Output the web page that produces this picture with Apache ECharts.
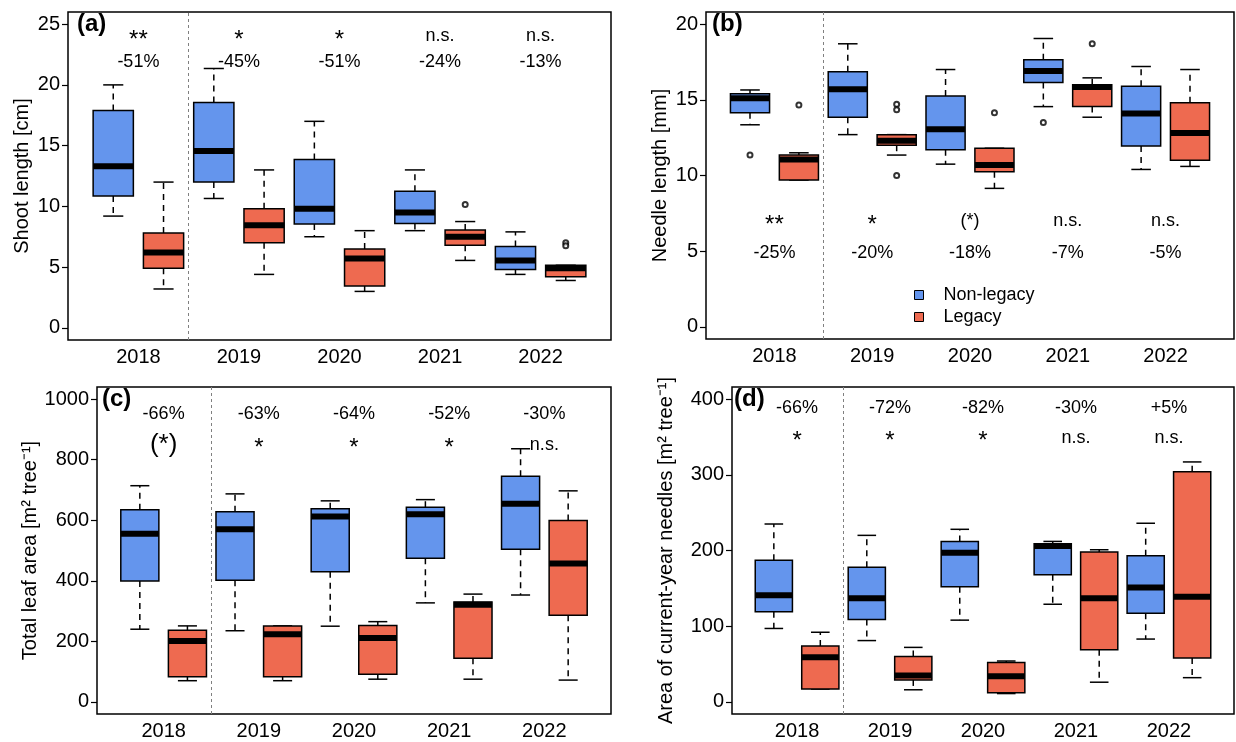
<!DOCTYPE html>
<html>
<head>
<meta charset="utf-8">
<script src="https://cdn.jsdelivr.net/npm/echarts@6.0.0/dist/echarts.min.js"></script>
<style>
  html, body { margin: 0; padding: 0; background: #fff; }
  #chart { width: 1236px; height: 742px; }
</style>
</head>
<body>
<div id="chart"></div>
<script>
const years = ["2018", "2019", "2020", "2021", "2022"];

// box stats per year: [lower whisker, Q1, median, Q3, upper whisker]
const shootNonLegacy = [[9.2, 10.85, 13.3, 17.9, 20.0], [10.65, 12.0, 14.55, 18.55, 21.35], [7.5, 8.55, 9.8, 13.85, 17.0], [8.0, 8.6, 9.5, 11.25, 13.0], [4.4, 4.8, 5.55, 6.7, 7.9]];
const shootLegacy = [[3.2, 4.9, 6.2, 7.8, 12.0], [4.4, 7.0, 8.45, 9.8, 13.0], [3.0, 3.45, 5.7, 6.5, 8.0], [5.55, 6.8, 7.5, 8.05, 8.75], [3.9, 4.2, 4.9, 5.15, 5.15]];
const shootOutNonLegacy = [];
const shootOutLegacy = [[3, 10.15], [4, 7.0], [4, 6.75]];
const shootSig = ["**", "*", "*", "n.s.", "n.s."];
const shootPct = ["-51%", "-45%", "-51%", "-24%", "-13%"];
const shootTicks = [0, 5, 10, 15, 20, 25];

const needleNonLegacy = [[13.35, 14.15, 15.1, 15.4, 15.65], [12.7, 13.85, 15.7, 16.85, 18.7], [10.75, 11.7, 13.05, 15.25, 17.0], [14.55, 16.15, 16.9, 17.65, 19.05], [10.4, 11.95, 14.1, 15.9, 17.2]];
const needleLegacy = [[9.7, 9.7, 11.05, 11.35, 11.5], [11.35, 12.0, 12.3, 12.7, 12.7], [9.15, 10.25, 10.7, 11.8, 11.8], [13.85, 14.55, 15.85, 16.0, 16.45], [10.6, 11.0, 12.8, 14.8, 17.0]];
const needleOutNonLegacy = [[0, 11.35], [3, 13.5]];
const needleOutLegacy = [[0, 14.65], [1, 14.7], [1, 14.35], [1, 10.0], [2, 14.15], [3, 18.7]];
const needleSig = ["**", "*", "(*)", "n.s.", "n.s."];
const needlePct = ["-25%", "-20%", "-18%", "-7%", "-5%"];
const needleTicks = [0, 5, 10, 15, 20];

const leafNonLegacy = [[240, 399, 555, 635, 714], [235, 402, 570, 628, 687], [250, 430, 612, 638, 664], [327, 474, 620, 643, 668], [353, 504, 654, 745, 836]];
const leafLegacy = [[70, 83, 201, 237, 251], [70, 83, 223, 251, 251], [75, 91, 211, 252, 265], [75, 144, 321, 330, 356], [72, 286, 457, 599, 697]];
const leafOutNonLegacy = [];
const leafOutLegacy = [];
const leafSig = ["(*)", "*", "*", "*", "n.s."];
const leafPct = ["-66%", "-63%", "-64%", "-52%", "-30%"];
const leafTicks = [0, 200, 400, 600, 800, 1000];

const newNonLegacy = [[97, 119, 141, 187, 235], [81, 109, 137, 178, 220], [108, 152, 197, 212, 228], [129, 168, 206, 209, 212], [83, 117, 151, 193, 236]];
const newLegacy = [[17, 17, 59, 74, 92], [16, 29, 35, 60, 72], [11, 12, 34, 52, 54], [26, 69, 137, 198, 201], [32, 58, 139, 304, 317]];
const newOutNonLegacy = [];
const newOutLegacy = [];
const newSig = ["*", "*", "*", "n.s.", "n.s."];
const newPct = ["-66%", "-72%", "-82%", "-30%", "+5%"];
const newTicks = [0, 100, 200, 300, 400];

const BLUE = "#6495ED";
const RED = "#EE6A50";
const FONT = "'Liberation Sans', Arial, sans-serif";

const panels = [
  { letter: "(a)", title: "Shoot length [cm]", non: shootNonLegacy, leg: shootLegacy, outNon: shootOutNonLegacy, outLeg: shootOutLegacy,
    sig: shootSig, pct: shootPct, ticks: shootTicks, sigY: 24, pctY: 21.9, bigParen: false,
    grid: { left: 68, top: 12, width: 543, height: 328 }, titleX: 22, letterX: 77 },
  { letter: "(b)", title: "Needle length [mm]", non: needleNonLegacy, leg: needleLegacy, outNon: needleOutNonLegacy, outLeg: needleOutLegacy,
    sig: needleSig, pct: needlePct, ticks: needleTicks, sigY: 7.0, pctY: 4.9, bigParen: false,
    grid: { left: 706, top: 12, width: 528, height: 327 }, titleX: 660, letterX: 712 },
  { letter: "(c)", title: "Total leaf area [m\u00B2 tree\u207B\u00B9]", non: leafNonLegacy, leg: leafLegacy, outNon: leafOutNonLegacy, outLeg: leafOutLegacy,
    sig: leafSig, pct: leafPct, ticks: leafTicks, sigY: 849, pctY: 950, bigParen: true,
    grid: { left: 97, top: 387, width: 514, height: 327 }, titleX: 30, letterX: 102 },
  { letter: "(d)", title: "Area of current-year needles [m\u00B2 tree\u207B\u00B9]", non: newNonLegacy, leg: newLegacy, outNon: newOutNonLegacy, outLeg: newOutLegacy,
    sig: newSig, pct: newPct, ticks: newTicks, sigY: 349, pctY: 388, bigParen: false,
    grid: { left: 732, top: 387, width: 502, height: 327 }, titleX: 666, letterX: 734 },
];

function boxRenderer(color) {
  return function (params, api) {
    const x = api.value(0);
    const lo = api.coord([x, api.value(1)]);
    const q1 = api.coord([x, api.value(2)]);
    const md = api.coord([x, api.value(3)]);
    const q3 = api.coord([x, api.value(4)]);
    const hi = api.coord([x, api.value(5)]);
    const half = api.size([0.8, 0])[0] / 2;
    const cap = half / 2;
    const cx = lo[0];
    const dash = { stroke: "#000", lineWidth: 1.5, lineDash: [6, 5] };
    const solid = { stroke: "#000", lineWidth: 1.5 };
    return {
      type: "group",
      children: [
        { type: "line", shape: { x1: cx, y1: q3[1], x2: cx, y2: hi[1] }, style: dash },
        { type: "line", shape: { x1: cx, y1: q1[1], x2: cx, y2: lo[1] }, style: dash },
        { type: "line", shape: { x1: cx - cap, y1: hi[1], x2: cx + cap, y2: hi[1] }, style: solid },
        { type: "line", shape: { x1: cx - cap, y1: lo[1], x2: cx + cap, y2: lo[1] }, style: solid },
        { type: "rect", shape: { x: cx - half, y: q3[1], width: half * 2, height: q1[1] - q3[1] },
          style: { fill: color, stroke: "#000", lineWidth: 1.5 } },
        { type: "line", shape: { x1: cx - half, y1: md[1], x2: cx + half, y2: md[1] },
          style: { stroke: "#000", lineWidth: 6 } },
      ],
    };
  };
}

const grids = [];
const xAxes = [];
const yAxes = [];
const series = [];
const graphics = [];

panels.forEach((p, i) => {
  grids.push(Object.assign({ show: true, borderColor: "#000", borderWidth: 1.5, backgroundColor: "transparent" }, p.grid));

  const yMin = p.ticks[0];
  const yMax = p.ticks[p.ticks.length - 1];
  const pad = (yMax - yMin) * 0.04;

  xAxes.push({
    type: "value", gridIndex: i, min: 0.1, max: 10.9,
    axisLine: { show: false }, axisTick: { show: false }, splitLine: { show: false },
    axisLabel: {
      customValues: years.map((y, k) => 1.5 + 2 * k),
      formatter: (v) => years[Math.round((v - 1.5) / 2)],
      color: "#000", fontSize: 20, fontFamily: FONT, margin: 7,
    },
  });

  yAxes.push({
    type: "value", gridIndex: i, min: yMin - pad, max: yMax + pad,
    axisLine: { show: false }, splitLine: { show: false },
    axisTick: { show: true, customValues: p.ticks, length: 6, lineStyle: { color: "#000", width: 1.2 } },
    axisLabel: { customValues: p.ticks, formatter: (v) => String(v), color: "#000", fontSize: 20, fontFamily: FONT, margin: 8 },
  });

  series.push({
    name: "Non-legacy", type: "custom", xAxisIndex: i, yAxisIndex: i,
    itemStyle: { color: BLUE },
    renderItem: boxRenderer(BLUE),
    encode: { x: 0, y: [1, 2, 3, 4, 5] },
    data: p.non.map((s, k) => [2 * k + 1].concat(s)),
    z: 3,
  });
  series.push({
    name: "Legacy", type: "custom", xAxisIndex: i, yAxisIndex: i,
    itemStyle: { color: RED },
    renderItem: boxRenderer(RED),
    encode: { x: 0, y: [1, 2, 3, 4, 5] },
    data: p.leg.map((s, k) => [2 * k + 2].concat(s)),
    z: 3,
  });

  const outliers = p.outNon.map((o) => [2 * o[0] + 1, o[1]]).concat(p.outLeg.map((o) => [2 * o[0] + 2, o[1]]));
  series.push({
    type: "scatter", xAxisIndex: i, yAxisIndex: i,
    symbol: "emptyCircle", symbolSize: 5,
    itemStyle: { color: "#000", borderWidth: 1 },
    data: outliers, z: 4,
  });

  const notes = [];
  years.forEach((y, k) => {
    const x = 1.5 + 2 * k;
    const s = p.sig[k];
    let size = 18;
    let off = [0, 0];
    if (/^\*+$/.test(s)) { size = 24; off = [0, 4]; }
    if (s === "(*)" && p.bigParen) size = 26;
    notes.push({ value: [x, p.sigY, s], label: { fontSize: size, offset: off } });
    notes.push({ value: [x, p.pctY, p.pct[k]], label: { fontSize: 18 } });
  });
  series.push({
    type: "scatter", xAxisIndex: i, yAxisIndex: i,
    symbolSize: 0, silent: true, z: 5,
    itemStyle: { color: "#000" },
    label: {
      show: true, position: "inside", color: "#000", textBorderWidth: 0, opacity: 1,
      fontFamily: FONT, formatter: (d) => d.value[2],
    },
    data: notes,
    markLine: {
      silent: true, symbol: ["none", "none"], label: { show: false },
      lineStyle: { color: "#808080", type: [3, 3], width: 1 },
      data: [{ xAxis: 2.5 }],
    },
  });

  const g = p.grid;
  graphics.push({
    type: "text", x: p.titleX, y: g.top + g.height / 2, rotation: Math.PI / 2,
    style: { text: p.title, fontSize: 20, fontFamily: FONT, fill: "#000", textAlign: "center", textVerticalAlign: "middle" },
  });
  graphics.push({
    type: "text", x: p.letterX, y: g.top + 12,
    style: { text: p.letter, fontSize: 24, fontWeight: "bold", fontFamily: FONT, fill: "#000", textAlign: "left", textVerticalAlign: "middle" },
  });
});

const chart = echarts.init(document.getElementById("chart"));
chart.setOption({
  animation: false,
  backgroundColor: "#fff",
  textStyle: { fontFamily: FONT },
  grid: grids,
  xAxis: xAxes,
  yAxis: yAxes,
  legend: {
    data: ["Non-legacy", "Legacy"],
    left: 914, top: 284, orient: "vertical", padding: 0,
    itemWidth: 9, itemHeight: 9, itemGap: 0, icon: "rect", selectedMode: false,
    itemStyle: { borderColor: "#000", borderWidth: 1 },
    textStyle: { fontSize: 18, lineHeight: 22, color: "#000", fontFamily: FONT, padding: [0, 0, 0, 15] },
  },
  series: series,
  graphic: graphics,
});
</script>
</body>
</html>
